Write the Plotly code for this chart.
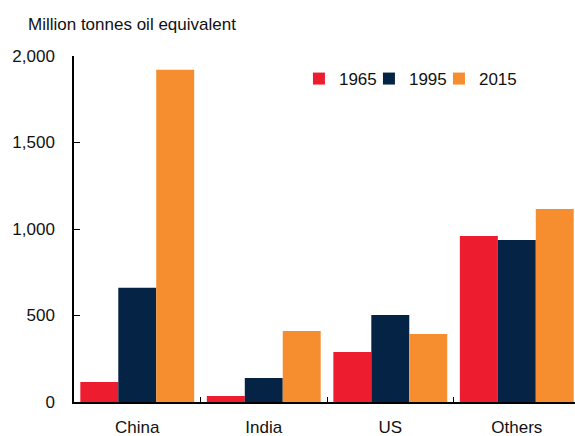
import plotly.graph_objects as go

categories = ["China", "India", "US", "Others"]
years = ["1965", "1995", "2015"]
v1965 = [115, 35, 289, 960]
v1995 = [660, 139, 503, 936]
v2015 = [1920, 410, 393, 1116]
colors = ["#ED1C2E", "#052445", "#F68D2E"]
legend_widths = [25, 25, 45]
ytick_vals = [0, 500, 1000, 1500, 2000]
ytick_text = ["0", "500", "1,000", "1,500", "2,000"]

FONT = "Liberation Sans, Arial, sans-serif"

fig = go.Figure()
for name, vals, c, lw in zip(years, [v1965, v1995, v2015], colors, legend_widths):
    fig.add_trace(go.Bar(x=categories, y=vals, name=name, legendwidth=lw,
                         marker=dict(color=c, line=dict(width=0))))

fig.update_layout(
    width=575, height=436,
    margin=dict(l=74, r=0, t=56, b=34, autoexpand=False),
    paper_bgcolor="white", plot_bgcolor="white",
    barmode="group", bargap=0.1, bargroupgap=0,
    font=dict(family=FONT, size=17, color="#111"),
    showlegend=True,
    legend=dict(orientation="h", x=0.449, y=0.9855, xanchor="left", yanchor="top",
                font=dict(size=17), bgcolor="rgba(0,0,0,0)", itemwidth=30,
                traceorder="normal", itemsizing="constant"),
    annotations=[dict(text="Million tonnes oil equivalent", xref="paper", yref="paper",
                      x=-0.096, y=1.092, xanchor="left", yanchor="middle", showarrow=False,
                      font=dict(size=17))],
)
fig.update_xaxes(range=[-0.5, 3.46], showline=True, linecolor="black", linewidth=1.5,
                 ticks="inside", tickson="boundaries", ticklen=5, tickcolor="black",
                 showgrid=False, tickfont=dict(size=17), fixedrange=True,
                 ticklabelstandoff=9)
fig.update_yaxes(range=[0, 2000], showline=True, linecolor="black", linewidth=1.5,
                 ticks="inside", ticklen=6, tickcolor="black", tickvals=ytick_vals,
                 ticktext=ytick_text, showgrid=False, zeroline=False,
                 tickfont=dict(size=17), ticklabelstandoff=14, fixedrange=True)

fig.write_html("out.html", config={"displayModeBar": False},
               post_script="document.body.style.margin='0';document.body.style.padding='0';")
